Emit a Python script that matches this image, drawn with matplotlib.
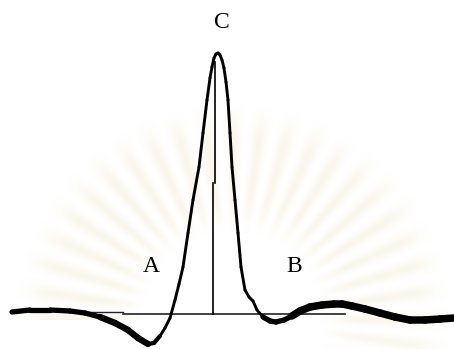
import numpy as np
import matplotlib
matplotlib.use("Agg")
import matplotlib.pyplot as plt
from matplotlib.collections import LineCollection

# Recorded trace: time axis and signal amplitude (baseline = 0)
time = [12, 30, 50, 70, 85, 100, 115, 128, 138, 148, 154, 160, 165, 170, 175,
        179, 183, 188, 193, 199, 203, 207, 210, 212, 214, 216, 218, 220, 222,
        224, 226, 228, 230, 232, 235, 238, 241, 245, 249, 253, 257, 263, 270,
        276, 284, 292, 300, 310, 322, 334, 342, 352, 365, 380, 395, 410, 425,
        440, 454]
amplitude = [2, 4, 4, 3, 1, -3, -9, -16, -24, -30, -29, -22, -14, -4, 14,
             30, 47, 81, 114, 147, 181, 214, 236, 247, 256, 260, 261, 259, 254,
             246, 232, 214, 181, 147, 114, 81, 47, 24, 17, 13, 4, -3, -7,
             -8, -6, -2, 3, 7, 9, 10, 10, 8, 5, 1, -3, -6, -6,
             -5, -4]

# Reference markers
baseline_level = 0
baseline_span = (123, 345)
pre_baseline_span = (80, 123)
pre_baseline_level = 2
peak_time = 214

labels = ["A", "B", "C"]
label_time = [151, 294, 222]
label_level = [48, 48, 292]

XMIN, XMAX, YMIN, YMAX = 0, 454, -35, 314

fig = plt.figure(figsize=(4.54, 3.49), dpi=100)
ax = fig.add_axes([0, 0, 1, 1])
ax.set_xlim(XMIN, XMAX)
ax.set_ylim(YMIN, YMAX)
ax.axis("off")

# soft sunburst emblem behind the trace
W, H = 454, 349
gx, gy = np.meshgrid(np.linspace(XMIN, XMAX, W), np.linspace(YMAX, YMIN, H))
cx, cy = 233, -6
dx, dy = gx - cx, gy - cy
r = np.hypot(dx, dy)
theta = np.degrees(np.arctan2(dy, dx))
n_rays = 44
rays = ((1 + np.cos(np.radians(theta) * n_rays)) / 2) ** 1.2
def smooth(a, b, x):
    s = np.clip((x - a) / (b - a), 0, 1)
    return s * s * (3 - 2 * s)
radial = smooth(85, 125, r) * (1 - smooth(180, 220, r))
angular = smooth(-20, -5, theta) * (1 - smooth(185, 200, theta))
alpha = 0.36 * rays * radial * angular
img = np.zeros((H, W, 4))
img[..., 0] = 240 / 255
img[..., 1] = 233 / 255
img[..., 2] = 202 / 255
img[..., 3] = alpha
ax.imshow(img, extent=(XMIN, XMAX, YMIN, YMAX), aspect="auto", zorder=0,
          interpolation="bilinear")

# trace: heavy pen at the flanks, thinner through the peak
t = np.asarray(time, float)
v = np.asarray(amplitude, float)
pts = np.column_stack([t, v]).reshape(-1, 1, 2)
segs = np.concatenate([pts[:-1], pts[1:]], axis=1)
mid = (t[:-1] + t[1:]) / 2
widths = np.where(mid < 95, 3.8,
         np.where(mid < 145, 4.6,
         np.where(mid < 160, 3.0,
         np.where(mid < 262, 2.1,
         np.where(mid < 290, 3.8, 5.4)))))
ax.add_collection(LineCollection(segs, linewidths=widths, colors="black",
                                 capstyle="round", joinstyle="round", zorder=3))

# baseline and peak height marker
ax.plot(baseline_span, [baseline_level] * 2, color="#222222", lw=1.2, zorder=2)
ax.plot(pre_baseline_span, [pre_baseline_level] * 2, color="#222222", lw=1.0, zorder=2)
ax.plot([peak_time - 1, peak_time - 1], [baseline_level, 131], color="black", lw=1.2, zorder=2)
ax.plot([peak_time + 1, peak_time + 1], [131, 252], color="black", lw=1.2, zorder=2)

for s, x, y in zip(labels, label_time, label_level):
    ax.text(x, y, s, fontsize=17, family="Liberation Serif", ha="center", va="center",
            color="black", zorder=4)

fig.savefig("out.png", dpi=100, facecolor="white")
